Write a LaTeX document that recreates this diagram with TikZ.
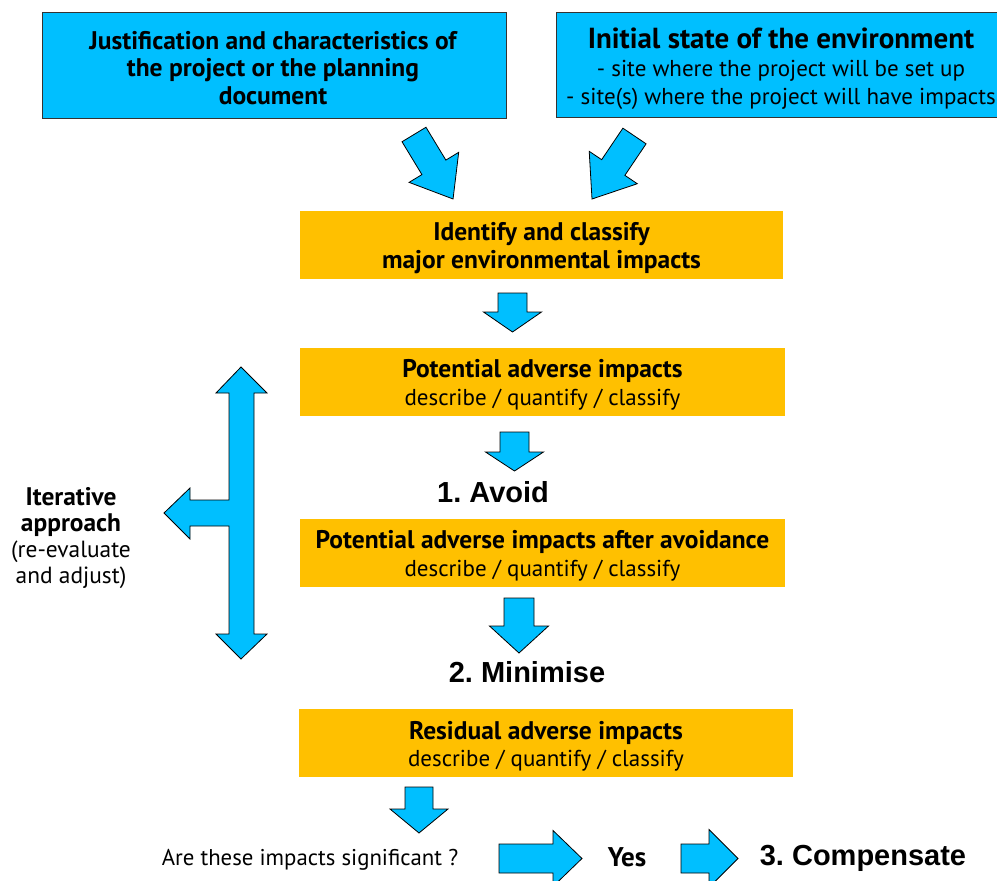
\documentclass[tikz,border=0pt]{standalone}
\usepackage{fontspec}
\setmainfont{PT Sans}
\newfontfamily\headfont{Liberation Sans}
\usetikzlibrary{positioning}

\definecolor{skyfill}{HTML}{00BFFF}
\definecolor{amberfill}{HTML}{FFC000}

% block arrow: start, angle, length, shaft width, head width, head length
\newcommand{\blockarrow}[6]{%
  \begin{scope}[shift={#1}, rotate=#2]
    \draw[arrowbody] (0,#4/2) -- (#3-#6,#4/2) -- (#3-#6,#5/2) -- (#3,0)
      -- (#3-#6,-#5/2) -- (#3-#6,-#4/2) -- (0,-#4/2) -- cycle;
  \end{scope}}
\newcommand{\boldline}{\bfseries\fontsize{25.5}{27.5}\selectfont}

\begin{document}
\frenchspacing
\begin{tikzpicture}[
  x=1pt, y=-1pt,
  every node/.style={inner sep=0pt, align=center},
  skybox/.style={draw=black!80, line width=1pt, fill=skyfill},
  amberbox/.style={fill=amberfill, minimum width=485pt, minimum height=68pt},
  arrowbody/.style={draw=black, line width=0.8pt, fill=skyfill, line join=miter},
  boxtext/.style={font=\fontsize{23}{27.5}\selectfont},
  steplabel/.style={font=\headfont\bfseries\fontsize{29}{32}\selectfont}
]
  \clip (0,0) rectangle (997,881);

  % input boxes
  \node[skybox, minimum width=464pt, minimum height=106pt] (justif) at (274,65) {};
  \node[font=\boldline] (justiftext) at (273,68)
    {Justification and characteristics of\\ the project or the planning\\ document};
  \node[skybox, minimum width=450pt, minimum height=105pt] (initial) at (781,64.5) {};
  \node[boxtext] (initialtext) at (781,68.5)
    {{\bfseries\fontsize{29}{32}\selectfont Initial state of the environment}\\[1pt]
    - site where the project will be set up\\
    - site(s) where the project will have impacts};

  \blockarrow{(414,134.5)}{-58.8}{75.4}{28}{58}{37}
  \blockarrow{(634.5,136)}{-124}{76}{28}{58}{38}

  % impact boxes
  \node[amberbox, minimum width=483pt] (identify) at (541.5,245) {};
  \node[font=\boldline, below=-22.5pt of identify.center] (identifytext)
    {Identify and classify\\ major environmental impacts};
  \node[amberbox] (potential) at (542.5,382) {};
  \node[boxtext, below=-22.5pt of potential.center] (potentialtext)
    {{\boldline Potential adverse impacts}\\ describe / quantify / classify};
  \node[amberbox] (after) at (542.5,553) {};
  \node[boxtext, below=-22.5pt of after.center] (aftertext)
    {{\boldline Potential adverse impacts after avoidance}\\ describe / quantify / classify};
  \node[amberbox, minimum width=494pt] (residual) at (546,743) {};
  \node[boxtext, below=-22pt of residual.center] (residualtext)
    {{\boldline Residual adverse impacts}\\ describe / quantify / classify};

  \blockarrow{(512.5,293)}{-90}{39}{29}{58}{20}
  \blockarrow{(514.5,432)}{-90}{39}{29}{58}{19}
  \blockarrow{(519,598)}{-90}{55}{30}{59}{27}
  \blockarrow{(419,787)}{-90}{46}{28}{58}{24}

  \node[steplabel] (avoid) at (493,492) {1. Avoid};
  \node[steplabel] (minimise) at (527,672) {2. Minimise};

  % iteration loop
  \draw[arrowbody] (241,367) -- (267,393) -- (254,393) -- (254,634) -- (267,634)
    -- (241,659) -- (216,634) -- (229,634) -- (229,526) -- (190,526) -- (190,539)
    -- (164,513) -- (190,488) -- (190,500) -- (229,500) -- (229,393) -- (216,393) -- cycle;
  \node[font=\fontsize{23.4}{26}\selectfont] (iterate) at (71,538)
    {{\bfseries\fontsize{25.4}{26}\selectfont Iterative}\\
    {\bfseries\fontsize{25.4}{26}\selectfont approach}\\ (re-evaluate\\ and adjust)};

  % decision
  \node[font=\fontsize{22.8}{26}\selectfont] (question) at (310,860)
    {Are these impacts significant ?};
  \blockarrow{(499,858.5)}{0}{83}{29}{56}{29}
  \node[font=\bfseries\fontsize{27}{30}\selectfont] (yes) at (627,857) {Yes};
  \blockarrow{(681,858.5)}{0}{57}{29}{58}{29}
  \node[steplabel] (compensate) at (863,858) {3. Compensate};
\end{tikzpicture}
\end{document}
